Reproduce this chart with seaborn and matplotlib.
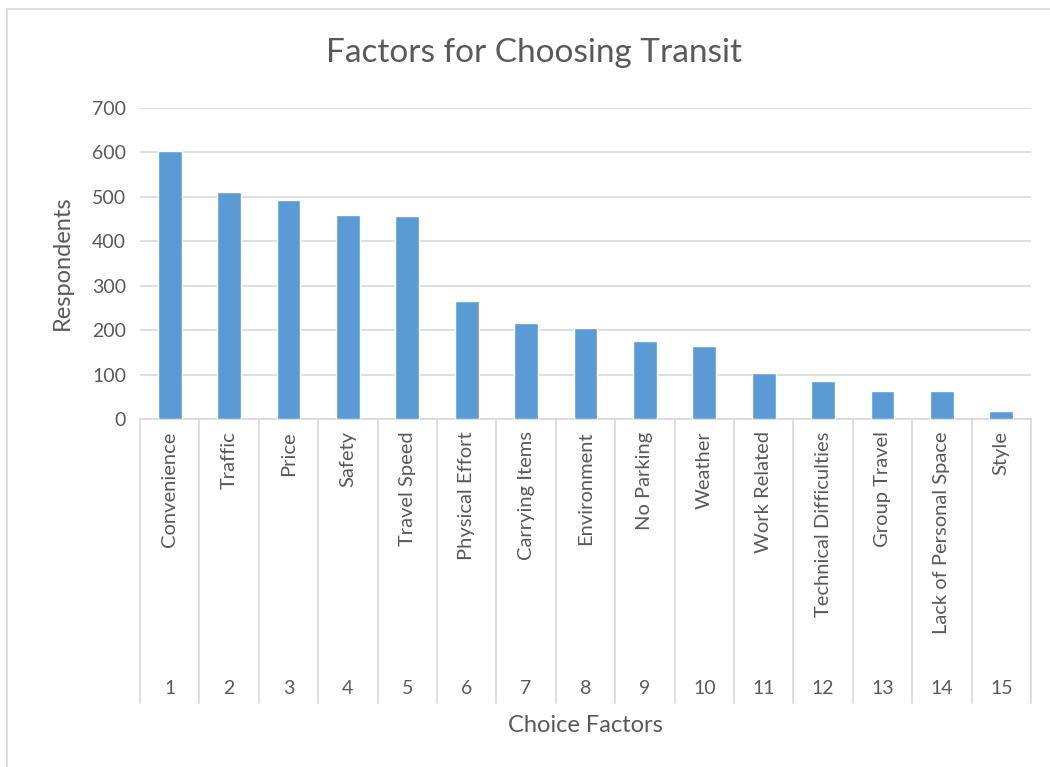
import matplotlib
matplotlib.use('Agg')
import matplotlib.pyplot as plt
import matplotlib.transforms as mtransforms
import pandas as pd
import seaborn as sns

rank = list(range(1, 16))
factors = ['Convenience', 'Traffic', 'Price', 'Safety', 'Travel Speed',
           'Physical Effort', 'Carrying Items', 'Environment', 'No Parking',
           'Weather', 'Work Related', 'Technical Difficulties', 'Group Travel',
           'Lack of Personal Space', 'Style']
respondents = [603, 512, 494, 460, 457, 266, 217, 205, 176, 164, 104, 86, 64, 62, 17]

df = pd.DataFrame({'Rank': [str(r) for r in rank], 'Factor': factors,
                   'Respondents': respondents})

sns.set_style('white')
plt.rcParams['font.family'] = ['Lato', 'DejaVu Sans']
text_col = '#595959'
grid_col = '#d9d9d9'

fig = plt.figure(figsize=(10.5, 7.67), dpi=100)
ax = fig.add_axes([140 / 1050, 1 - 419 / 767, 891 / 1050, 311 / 767])

sns.barplot(data=df, x='Rank', y='Respondents', color='#5b9bd5', width=0.4,
            saturation=1, ax=ax, zorder=3)

ax.set_ylim(0, 700)
ax.set_xlim(-0.5, 14.5)
ax.set_yticks(range(0, 701, 100))
ax.yaxis.grid(True, color=grid_col, lw=1.2, zorder=0)
for s in ['top', 'right', 'left']:
    ax.spines[s].set_visible(False)
ax.spines['bottom'].set_color(grid_col)
ax.spines['bottom'].set_linewidth(1.2)
ax.tick_params(axis='y', length=0, labelsize=14, labelcolor=text_col, pad=10)
ax.set_xticks([])
ax.set_xlabel('')
ax.set_ylabel('')
fig.text(62 / 1050, 1 - 263 / 767, 'Respondents', rotation=90, ha='center',
         va='center', fontsize=17, color=text_col)

# multi-level category axis
trans = mtransforms.blended_transform_factory(ax.transData, ax.transAxes)
low = (419 - 703) / 311
for i in range(len(factors) + 1):
    ax.plot([i - 0.5, i - 0.5], [0, low], transform=trans, color=grid_col,
            lw=1.2, clip_on=False)
for i, (name, r) in enumerate(zip(factors, rank)):
    ax.text(i, -0.04, name, transform=trans, rotation=90, ha='center', va='top',
            fontsize=14.5, color=text_col)
    ax.text(i, (419 - 689) / 311, str(r), transform=trans, ha='center',
            va='center', fontsize=14, color=text_col)

fig.text(585 / 1050, 1 - 725 / 767, 'Choice Factors', ha='center', va='center',
         fontsize=17, color=text_col)
fig.text(534 / 1050, 1 - 53 / 767, 'Factors for Choosing Transit', ha='center',
         va='center', fontsize=24, color=text_col)

# chart area border (only left and top edges visible)
fig.add_artist(plt.Line2D([7 / 1050, 7 / 1050], [0, 1 - 9 / 767],
                          color=grid_col, lw=1.2))
fig.add_artist(plt.Line2D([7 / 1050, 1], [1 - 9 / 767, 1 - 9 / 767],
                          color=grid_col, lw=1.2))

fig.savefig('out.png', dpi=100, facecolor='white')
